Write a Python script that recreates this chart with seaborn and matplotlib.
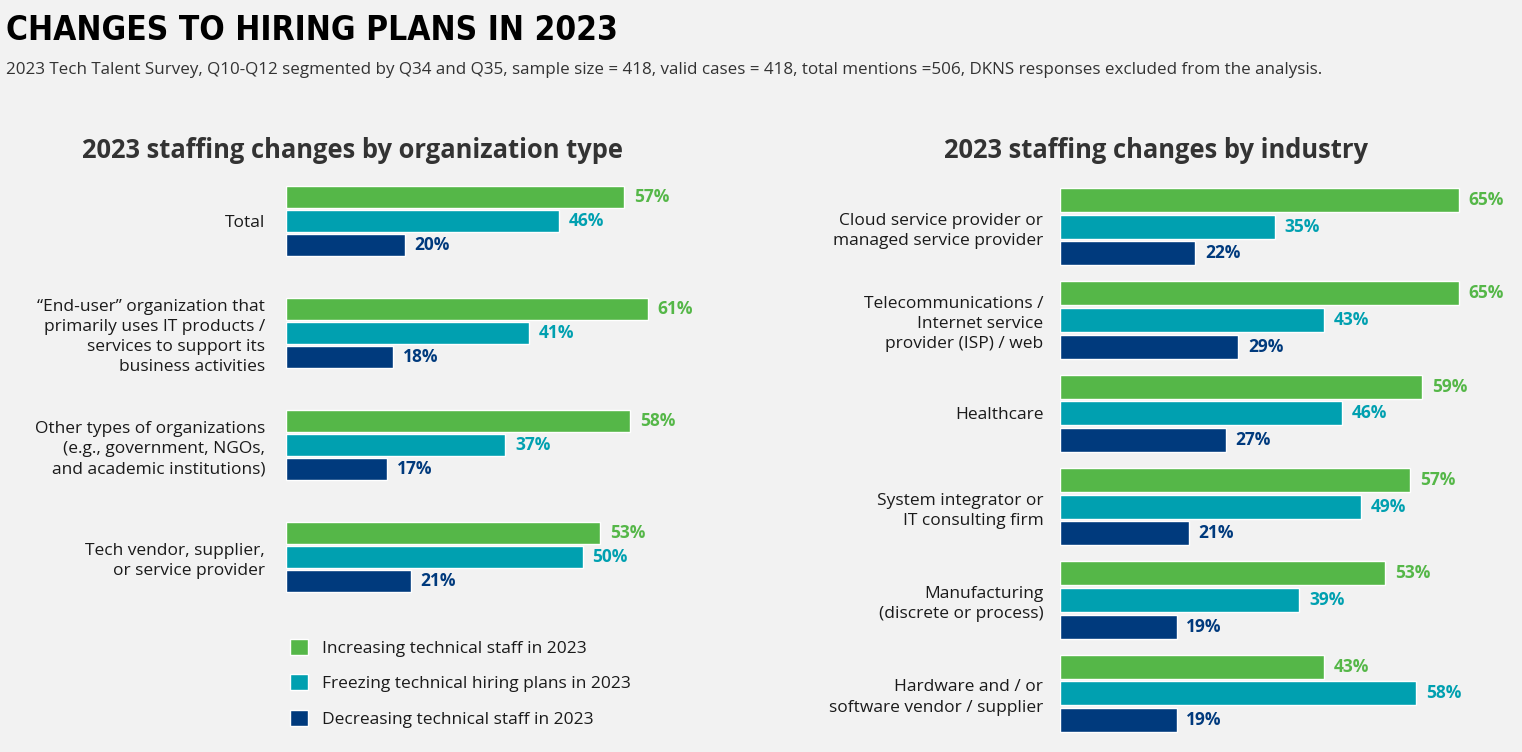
"""Changes to hiring plans in 2023: two grouped horizontal bar panels."""

import matplotlib
matplotlib.use("Agg")
import matplotlib.pyplot as plt
import pandas as pd
import seaborn as sns

series = [
    "Increasing technical staff in 2023",
    "Freezing technical hiring plans in 2023",
    "Decreasing technical staff in 2023",
]
colors = ["#55b748", "#00a0b0", "#003a7d"]

org_types = [
    "Total",
    "\u201cEnd-user\u201d organization that\nprimarily uses IT products /\nservices to support its\nbusiness activities",
    "Other types of organizations\n(e.g., government, NGOs,\nand academic institutions)",
    "Tech vendor, supplier,\nor service provider",
]
org_increasing = [57, 61, 58, 53]
org_freezing = [46, 41, 37, 50]
org_decreasing = [20, 18, 17, 21]

industries = [
    "Cloud service provider or\nmanaged service provider",
    "Telecommunications /\nInternet service\nprovider (ISP) / web",
    "Healthcare",
    "System integrator or\nIT consulting firm",
    "Manufacturing\n(discrete or process)",
    "Hardware and / or\nsoftware vendor / supplier",
]
ind_increasing = [65, 65, 59, 57, 53, 43]
ind_freezing = [35, 43, 46, 49, 39, 58]
ind_decreasing = [22, 29, 27, 21, 19, 19]


def to_long(cats, *vals):
    rows = []
    for s, v in zip(series, vals):
        for c, x in zip(cats, v):
            rows.append({"category": c, "series": s, "value": x})
    return pd.DataFrame(rows)


org_df = to_long(org_types, org_increasing, org_freezing, org_decreasing)
ind_df = to_long(industries, ind_increasing, ind_freezing, ind_decreasing)

BG = "#f2f2f2"
sns.set_theme(style="white", rc={"figure.facecolor": BG, "axes.facecolor": BG})
plt.rcParams["font.family"] = ["Open Sans", "DejaVu Sans"]

W, H = 1522, 752
fig = plt.figure(figsize=(W / 100, H / 100), dpi=100)


def px_axes(left, top, right, bottom):
    return fig.add_axes([left / W, 1 - bottom / H, (right - left) / W, (bottom - top) / H])


def draw_panel(ax, df, cats, width, gap, pad):
    sns.barplot(data=df, y="category", x="value", hue="series", order=cats,
                hue_order=series, palette=colors, orient="h", width=width,
                gap=gap, saturation=1, ax=ax, legend=True, errorbar=None)
    for cont, col in zip(ax.containers, colors):
        ax.bar_label(cont, labels=[f"{v:.0f}%" for v in cont.datavalues],
                     padding=7, color=col, fontsize=12.5, fontweight="bold")
    ax.set_xlim(0, 70)
    ax.set_ylim(len(cats) - 0.5, -0.5)
    ax.set_xlabel("")
    ax.set_ylabel("")
    ax.set_xticks([])
    ax.tick_params(axis="y", length=0, pad=pad, labelsize=12.5, labelcolor="#1a1a1a")
    for t in ax.get_yticklabels():
        t.set_linespacing(1.35)
    sns.despine(ax=ax, left=True, bottom=True)


# left panel: 5.93 px per percent, groups 112 px apart
ax1 = px_axes(286, 165, 286 + 70 * 5.93, 613)
draw_panel(ax1, org_df, org_types, width=0.643, gap=0.083, pad=15)
handles, labels = ax1.get_legend_handles_labels()
ax1.get_legend().remove()

# right panel: 6.14 px per percent, groups 93.4 px apart
ax2 = px_axes(1060, 180, 1060 + 70 * 6.14, 740)
draw_panel(ax2, ind_df, industries, width=0.86, gap=0.1, pad=12)
ax2.get_legend().remove()

fig.legend(handles, labels, loc="upper left", bbox_to_anchor=(274 / W, 1 - 623 / H),
           frameon=False, fontsize=12.5, handlelength=1.05, handleheight=1.05,
           handletextpad=0.8, labelspacing=1.02, labelcolor="#1a1a1a")

fig.text(6 / W, 1 - 30 / H, "CHANGES TO HIRING PLANS IN 2023", ha="left", va="center",
         fontsize=24, fontweight="bold", fontstretch="condensed", color="black",
         family=["DejaVu Sans"])
fig.text(6 / W, 1 - 70 / H,
         "2023 Tech Talent Survey, Q10-Q12 segmented by Q34 and Q35, sample size = 418, "
         "valid cases = 418, total mentions =506, DKNS responses excluded from the analysis.",
         ha="left", va="center", fontsize=12.25, color="#333333")
fig.text(352 / W, 1 - 151 / H, "2023 staffing changes by organization type", ha="center",
         va="center", fontsize=18.4, fontweight="bold", color="#333333")
fig.text(1156 / W, 1 - 151 / H, "2023 staffing changes by industry", ha="center",
         va="center", fontsize=18.4, fontweight="bold", color="#333333")

fig.savefig("out.png", dpi=100, facecolor=BG)
